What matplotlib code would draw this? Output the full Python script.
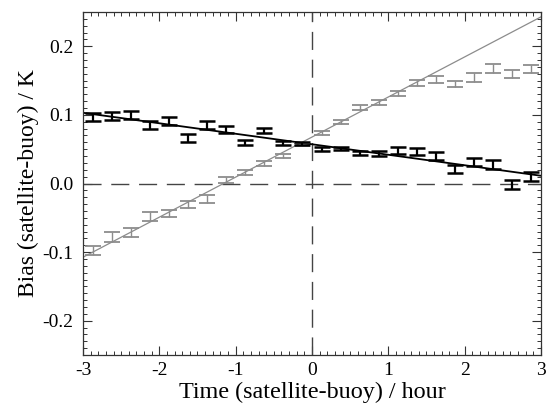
import matplotlib.pyplot as plt
import numpy as np
from matplotlib.ticker import MultipleLocator

# time bins (centres of 0.25 h bins)
tempo = np.arange(-2.875, 3.0, 0.25)

# black series
bias_preto = [0.0966, 0.098, 0.100, 0.0858, 0.0916, 0.066, 0.0853, 0.0787,
              0.0595, 0.0768, 0.0588, 0.0585, 0.0505, 0.0512, 0.0442, 0.0439,
              0.0481, 0.0468, 0.0405, 0.0212, 0.0313, 0.0276, -0.001, 0.0108]
erro_preto = [0.0056, 0.0056, 0.0063, 0.0058, 0.0058, 0.0056, 0.0058, 0.0051,
              0.0041, 0.0034, 0.0027, 0.0022, 0.0029, 0.0024, 0.0030, 0.0036,
              0.0051, 0.0050, 0.0056, 0.0063, 0.0063, 0.0070, 0.0063, 0.0066]

# grey series
bias_cinza = [-0.0977, -0.078, -0.071, -0.0484, -0.044, -0.030, -0.0226, 0.005,
              0.0165, 0.0292, 0.0406, 0.057, 0.0732, 0.0898, 0.111, 0.118,
              0.1315, 0.1465, 0.1516, 0.145, 0.1545, 0.167, 0.160, 0.1666]
erro_cinza = [0.0066, 0.0070, 0.0066, 0.0063, 0.0053, 0.0051, 0.0053, 0.0044,
              0.0034, 0.0034, 0.0027, 0.0024, 0.0027, 0.0029, 0.0032, 0.0036,
              0.0039, 0.0044, 0.0056, 0.0049, 0.0060, 0.0066, 0.0056, 0.0060]

# linear fits (intercept, slope)
ajuste_preto = (0.0572, -0.0153)
ajuste_cinza = (0.0677, 0.0584)

plt.rcParams['font.family'] = 'Liberation Serif'
plt.rcParams['font.size'] = 14

fig = plt.figure(figsize=(5.47, 4.18), dpi=100)
ax = fig.add_axes([0.1517, 0.1507, 0.8373, 0.8206])

# linhas de referência
ax.axhline(0, color='#444444', lw=1, dashes=(13, 7))
ax.axvline(0, color='#444444', lw=1, dashes=(13, 7))

xx = np.array([-3, 3])
ax.plot(xx, ajuste_cinza[0] + ajuste_cinza[1] * xx, color='#8c8c8c', lw=0.9)
ax.plot(xx, ajuste_preto[0] + ajuste_preto[1] * xx, color='black', lw=1.3)

ax.errorbar(tempo, bias_cinza, yerr=erro_cinza, fmt='none', ecolor='#8c8c8c',
            elinewidth=1.0, capsize=5.5, capthick=1.3)
ax.errorbar(tempo, bias_preto, yerr=erro_preto, fmt='none', ecolor='black',
            elinewidth=1.6, capsize=5.5, capthick=1.8)

ax.set_xlim(-3, 3)
ax.set_ylim(-0.25, 0.25)
ax.xaxis.set_major_locator(MultipleLocator(1))
ax.xaxis.set_minor_locator(MultipleLocator(0.1))
ax.yaxis.set_major_locator(MultipleLocator(0.1))
ax.yaxis.set_minor_locator(MultipleLocator(0.01))
ax.yaxis.set_major_formatter(plt.FuncFormatter(lambda v, p: f'{v:.1f}' if abs(v) > 1e-9 else '0.0'))
ax.xaxis.set_major_formatter(plt.FuncFormatter(lambda v, p: f'{v:.0f}'))

ax.tick_params(which='both', direction='in', top=True, right=True, color='#333333')
ax.tick_params(which='major', length=6.5, width=0.8)
ax.tick_params(axis='x', which='major', pad=5)
ax.tick_params(axis='y', which='major', pad=7)
ax.tick_params(which='minor', length=3, width=0.7)
for s in ax.spines.values():
    s.set_linewidth(0.9)
    s.set_color('#333333')

ax.set_xlabel('Time (satellite-buoy) / hour', fontsize=17.4, labelpad=2)
ax.set_ylabel('Bias (satellite-buoy) / K', fontsize=17, labelpad=2)

fig.savefig('out.png', dpi=100)
